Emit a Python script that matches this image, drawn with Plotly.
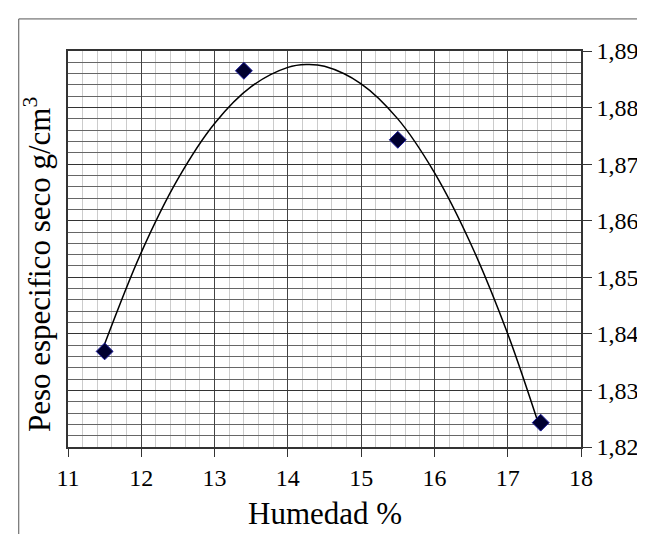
import plotly.graph_objects as go

# measured points
humedad = [11.5, 13.4, 15.5, 17.45]
peso_seco = [1.8369, 1.8865, 1.8743, 1.8243]

# trend curve
curva_x = [11.5, 12.0, 12.5, 13.0, 13.5, 14.0, 14.25, 14.5, 15.0, 15.5, 16.0, 16.5, 17.0, 17.45]
curva_y = [1.8382, 1.8544, 1.8674, 1.8772, 1.8837, 1.8871, 1.8876, 1.8873, 1.8842,
           1.8780, 1.8685, 1.8558, 1.8400, 1.8229]

x_ticks = [11, 12, 13, 14, 15, 16, 17, 18]
y_ticks = [1.82, 1.83, 1.84, 1.85, 1.86, 1.87, 1.88, 1.89]

FONT = 'Liberation Serif, Times New Roman, serif'

fig = go.Figure()
fig.add_trace(go.Scatter(
    x=curva_x, y=curva_y, mode='lines', line_shape='spline',
    line=dict(color='black', width=1.5), hoverinfo='skip',
))
fig.add_trace(go.Scatter(
    x=humedad, y=peso_seco, mode='markers',
    marker=dict(symbol='diamond', size=13, color='#000030',
                line=dict(color='#1a1a9a', width=1)),
))

fig.update_layout(
    width=645, height=534, autosize=False,
    margin=dict(l=60, r=72, t=43, b=95),
    paper_bgcolor='white', plot_bgcolor='white',
    showlegend=False, separators=',.',
    font=dict(family=FONT, size=24, color='black'),
    xaxis=dict(
        range=[11, 18], tickvals=x_ticks, ticks='outside', ticklen=8,
        tickcolor='#333', showline=True, linecolor='#333', linewidth=1.5,
        mirror=True, showgrid=True, gridcolor='#444', gridwidth=1, zeroline=False,
        minor=dict(dtick=0.2, showgrid=True, gridcolor='#cccccc', gridwidth=1),
        tickfont=dict(family=FONT, size=24),
    ),
    yaxis=dict(
        range=[1.82, 1.89], tickvals=y_ticks, tickformat='.2f', side='right',
        ticks='outside', ticklen=9, tickcolor='#333', showline=True,
        linecolor='#333', linewidth=1.5, mirror=True, showgrid=True,
        gridcolor='#333', gridwidth=1, zeroline=False,
        minor=dict(dtick=0.002, showgrid=True, gridcolor='#666', gridwidth=1),
        tickfont=dict(family=FONT, size=24),
    ),
    annotations=[
        dict(text='Peso especifico seco g/cm<sup>3</sup>', textangle=-90,
             xref='paper', yref='paper', x=-0.058, y=0.46,
             xanchor='center', yanchor='middle', showarrow=False,
             font=dict(family=FONT, size=31, color='black')),
        dict(text='Humedad %', xref='x', yref='paper', x=14.5, y=-0.167,
             xanchor='center', yanchor='middle', showarrow=False,
             font=dict(family=FONT, size=31, color='black')),
    ],
    shapes=[
        dict(type='line', xref='paper', yref='paper', x0=-0.096, x1=1.2,
             y0=1.081, y1=1.081, line=dict(color='#555', width=1)),
        dict(type='line', xref='paper', yref='paper', x0=-0.096, x1=-0.096,
             y0=1.081, y1=-0.3, line=dict(color='#555', width=1)),
    ],
)

fig.write_html("out.html")
